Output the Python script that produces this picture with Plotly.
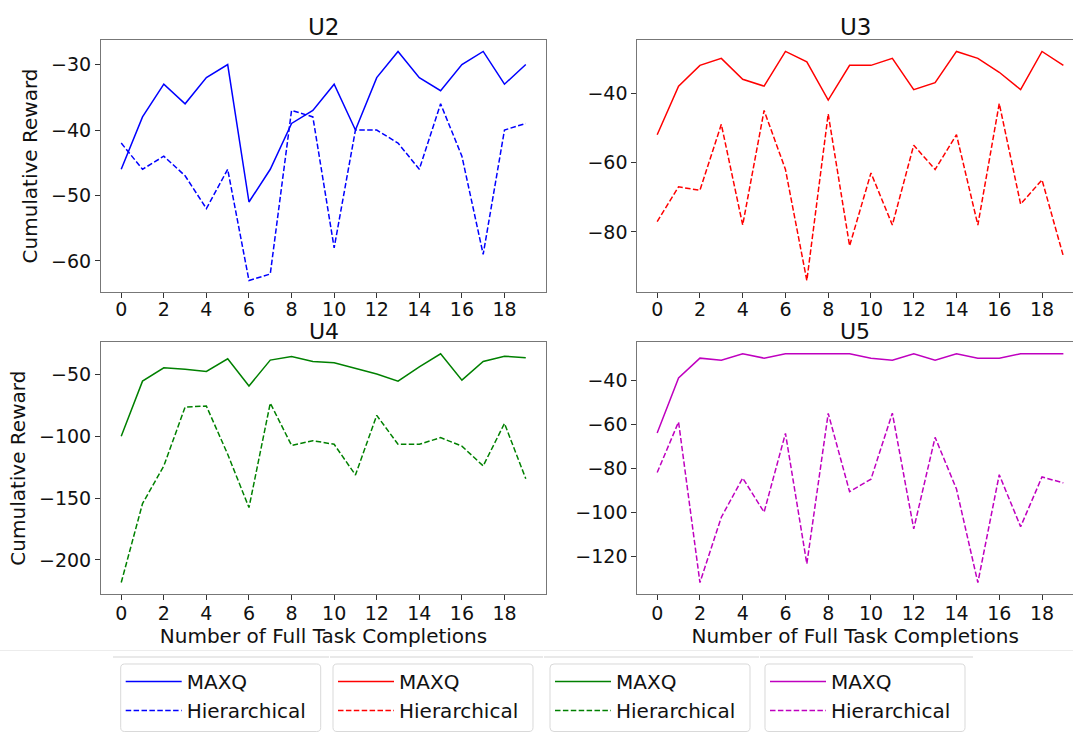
import plotly.graph_objects as go

x_vals = list(range(20))

u2_maxq = [-46, -38, -33, -36, -32, -30, -51, -46, -39, -37, -33, -40, -32, -28, -32, -34, -30, -28, -33, -30]
u2_hier = [-42, -46, -44, -47, -52, -46, -63, -62, -37, -38, -58, -40, -40, -42, -46, -36, -44, -59, -40, -39]

u3_maxq = [-52, -38, -32, -30, -36, -38, -28, -31, -42, -32, -32, -30, -39, -37, -28, -30, -34, -39, -28, -32]
u3_hier = [-77, -67, -68, -49, -78, -45, -62, -94, -46, -84, -63, -78, -55, -62, -52, -78, -43, -72, -65, -87]

u4_maxq = [-100, -55.4, -44.6, -45.7, -47.6, -37.3, -59.4, -38.4, -35.5, -39.5, -40.6, -44.9, -49.7, -55.4, -43.8, -33.3, -54.6, -39.5, -35.2, -36.5]
u4_hier = [-218.3, -154.5, -124, -76.4, -75.6, -114.6, -157.7, -73.2, -107.4, -103.6, -106.5, -131.3, -83.1, -106.5, -106.5, -101.1, -108, -124, -89.6, -134.3]

u5_maxq = [-64, -39, -30, -31, -28, -30, -28, -28, -28, -28, -30, -31, -28, -31, -28, -30, -30, -28, -28, -28]
u5_hier = [-82, -59, -132, -102.3, -84.5, -100, -64.2, -123.5, -55.1, -90.7, -85, -55, -107.6, -66, -89.5, -132, -83, -106.6, -84, -86.7]

panel_titles = ["U2", "U3", "U4", "U5"]
series_names = ["MAXQ", "Hierarchical"]
y_title = "Cumulative Reward"
x_title = "Number of Full Task Completions"
x_ticks = list(range(0, 20, 2))

panels = [
    (u2_maxq, u2_hier, "#0000ff"),
    (u3_maxq, u3_hier, "#ff0000"),
    (u4_maxq, u4_hier, "#008000"),
    (u5_maxq, u5_hier, "#bf00bf"),
]

W, H = 1073, 733
def px_x(p): return p / W
def px_y(p): return 1 - p / H

# axes pixel boxes (left, right, top, bottom)
boxes = [
    (101, 546, 40, 292),
    (637.3, 1073, 40, 292),
    (101, 546, 342.3, 594),
    (637.3, 1073, 342.3, 594),
]
title_cy = [27, 27, 332, 332]
title_cx = [323.5, 855, 323.5, 855]
x_ranges = [[-0.95, 19.95], [-0.93, 19.45], [-0.95, 19.95], [-0.93, 19.45]]
y_ranges = [[-64.75, -26.25], [-97.3, -24.7], [-227.6, -24.0], [-137.2, -22.8]]
y_dtick = [10, 20, 50, 20]

font_family = "DejaVu Sans"
fig = go.Figure()

legend_ids = ["legend", "legend2", "legend3", "legend4"]
for i, (mq, hi, col) in enumerate(panels):
    xa = "x" if i == 0 else f"x{i+1}"
    ya = "y" if i == 0 else f"y{i+1}"
    fig.add_trace(go.Scatter(x=x_vals, y=mq, mode="lines", name=series_names[0],
                             line=dict(color=col, width=1.5), xaxis=xa, yaxis=ya,
                             legend=legend_ids[i]))
    fig.add_trace(go.Scatter(x=x_vals, y=hi, mode="lines", name=series_names[1],
                             line=dict(color=col, width=1.5, dash="5.5px,2.4px"),
                             xaxis=xa, yaxis=ya, legend=legend_ids[i]))

layout = dict(
    width=W, height=H,
    margin=dict(l=0, r=0, t=0, b=0),
    paper_bgcolor="white", plot_bgcolor="white",
    font=dict(family=font_family, color="#111111", size=19),
    showlegend=True,
)

for i in range(4):
    l, r, t, b = boxes[i]
    xk = "xaxis" if i == 0 else f"xaxis{i+1}"
    yk = "yaxis" if i == 0 else f"yaxis{i+1}"
    xanchor_id = "y" if i == 0 else f"y{i+1}"
    yanchor_id = "x" if i == 0 else f"x{i+1}"
    right_col = i in (1, 3)
    layout[xk] = dict(
        domain=[px_x(l), min(1.0, px_x(r))], anchor=xanchor_id, range=x_ranges[i],
        tickmode="array", tickvals=x_ticks, ticks="outside", ticklen=5, tickwidth=1,
        tickcolor="#333333", showgrid=False, zeroline=False, showline=True,
        linecolor="#777777", linewidth=1, mirror=True,
        tickfont=dict(size=19, family=font_family, color="#111111"),
        ticklabelstandoff=-3 if i >= 2 else -5,
        automargin=False,
        title=dict(text=x_title if i >= 2 else "", font=dict(size=20, family=font_family),
                   standoff=2),
    )
    layout[yk] = dict(
        domain=[px_y(b), px_y(t)], anchor=yanchor_id, range=y_ranges[i],
        dtick=y_dtick[i], tick0=0, ticks="outside", ticklen=5, tickwidth=1,
        tickcolor="#333333", showgrid=False, zeroline=False, showline=True,
        linecolor="#777777", linewidth=1, mirror=False if right_col else True,
        tickfont=dict(size=19, family=font_family, color="#111111"),
        automargin=False,
        title=dict(text=y_title if not right_col else "", font=dict(size=20, family=font_family),
                   standoff=8),
    )

annotations = []
for i in range(4):
    annotations.append(dict(text=panel_titles[i], x=px_x(title_cx[i]), y=px_y(title_cy[i]),
                            xref="paper", yref="paper",
                            xanchor="center", yanchor="middle", showarrow=False,
                            font=dict(size=23 if i < 2 else 22, family=font_family, color="#111111")))
layout["annotations"] = annotations

leg_lefts = [120.7, 333, 550, 765]
leg_width = 200
leg_top, leg_bot = 664, 731.5
for i, lid in enumerate(legend_ids):
    layout[lid] = dict(
        x=px_x(leg_lefts[i]), y=px_y(leg_top - 2), xanchor="left", yanchor="top",
        xref="paper", yref="paper", orientation="v",
        bgcolor="rgba(0,0,0,0)", borderwidth=0,
        font=dict(size=20, family=font_family, color="#111111"),
        tracegroupgap=0, itemwidth=56,
    )

shapes = [dict(type="line", xref="paper", yref="paper", x0=0, x1=1, y0=px_y(650.5), y1=px_y(650.5),
               line=dict(color="#ececec", width=1))]
for a, bb in [(113, 329), (330, 543), (544, 759), (760, 973)]:
    shapes.append(dict(type="line", xref="paper", yref="paper", x0=px_x(a), x1=px_x(bb),
                       y0=px_y(657), y1=px_y(657), line=dict(color="#e2e2e2", width=1.5)))

# rounded legend frames
rad = 4
for lx in leg_lefts:
    x0, x1 = lx, lx + leg_width
    y0, y1 = leg_top, leg_bot
    pts = [
        ("M", x0 + rad, y0), ("L", x1 - rad, y0), ("Q", x1, y0, x1, y0 + rad),
        ("L", x1, y1 - rad), ("Q", x1, y1, x1 - rad, y1), ("L", x0 + rad, y1),
        ("Q", x0, y1, x0, y1 - rad), ("L", x0, y0 + rad), ("Q", x0, y0, x0 + rad, y0),
    ]
    path = ""
    for p in pts:
        cmd = p[0]
        coords = p[1:]
        segs = []
        for k in range(0, len(coords), 2):
            segs.append(f"{px_x(coords[k]):.6f},{px_y(coords[k+1]):.6f}")
        path += cmd + " ".join(segs) + " "
    shapes.append(dict(type="path", xref="paper", yref="paper", path=path + "Z",
                       fillcolor="white", line=dict(color="#d9d9d9", width=1), layer="below"))
layout["shapes"] = shapes

fig.update_layout(**layout)
fig.write_html("out.html", config={"displayModeBar": False},
               post_script="document.body.style.margin='0';document.body.style.overflow='hidden';")
